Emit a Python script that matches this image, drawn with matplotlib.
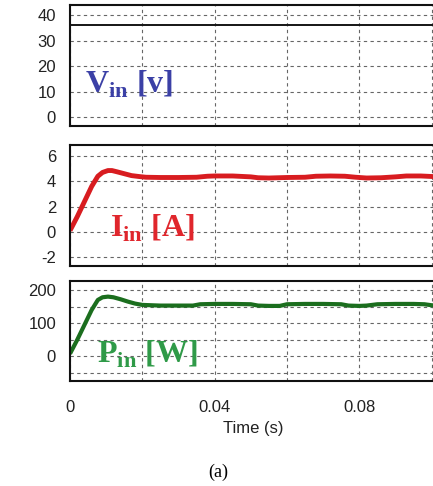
import matplotlib.pyplot as plt

plt.rcParams['font.family'] = ['Liberation Sans', 'DejaVu Sans']
plt.rcParams['axes.unicode_minus'] = False
plt.rcParams['mathtext.fontset'] = 'custom'
plt.rcParams['mathtext.rm'] = 'Liberation Serif:bold'
plt.rcParams['mathtext.bf'] = 'Liberation Serif:bold'

# input voltage (flat)
t_v = [0.0, 0.1012]
v_in = [36, 36]

# input current
t_i = [0.0, 0.002, 0.004, 0.006, 0.0077, 0.009, 0.0105, 0.0116, 0.013, 0.015,
       0.017, 0.019, 0.021, 0.025, 0.03, 0.035, 0.038, 0.04, 0.045, 0.05,
       0.052, 0.055, 0.06, 0.065, 0.068, 0.072, 0.076, 0.079, 0.082, 0.086,
       0.09, 0.093, 0.097, 0.1, 0.1012]
i_in = [0.1, 1.2, 2.4, 3.6, 4.4, 4.7, 4.85, 4.85, 4.75, 4.6,
        4.45, 4.38, 4.32, 4.3, 4.3, 4.32, 4.4, 4.42, 4.42, 4.35,
        4.28, 4.26, 4.3, 4.32, 4.4, 4.42, 4.4, 4.32, 4.26, 4.28,
        4.35, 4.42, 4.42, 4.38, 4.35]

# input power
t_p = [0.0, 0.002, 0.004, 0.006, 0.0077, 0.009, 0.0105, 0.012, 0.014, 0.016,
       0.018, 0.02, 0.025, 0.03, 0.034, 0.036, 0.04, 0.045, 0.05, 0.052,
       0.055, 0.058, 0.06, 0.065, 0.07, 0.075, 0.077, 0.08, 0.082, 0.085,
       0.09, 0.095, 0.098, 0.1, 0.1012]
p_in = [8, 50, 95, 140, 170, 178, 180, 178, 172, 165,
        159, 155, 153, 153, 153, 157, 158, 158, 157, 153,
        152, 152, 157, 158, 158, 157, 153, 152, 153, 157,
        158, 158, 157, 154, 153]

x_ticks = [0, 0.02, 0.04, 0.06, 0.08, 0.1]
x_labels = ['0', '', '0.04', '', '0.08', '']

W, H = 433, 486
fig = plt.figure(figsize=(W / 100, H / 100), dpi=100)

def make_ax(top, bottom):
    ax = fig.add_axes([70 / W, (H - bottom) / H, 366 / W, (bottom - top) / H])
    ax.set_xlim(0, 0.1012)
    ax.set_xticks(x_ticks)
    ax.tick_params(length=0, labelsize=12, labelcolor='#222222', pad=10)
    ax.grid(True, color='#666666', linestyle=(0, (3, 3)), lw=0.8)
    for s in ax.spines.values():
        s.set_linewidth(1.5)
        s.set_color('#111111')
    return ax

def label(ax, x, y, s, color):
    # x, y in image pixels (top-left origin), y is the baseline
    ax.text(x / W, 1 - y / H, s, transform=fig.transFigure, fontsize=23,
            color=color, family='Liberation Serif', weight='bold', va='baseline')

ax1 = make_ax(5, 126)
ax1.plot(t_v, v_in, color='#151515', lw=1.4)
ax1.set_ylim(-3.5, 44)
ax1.set_yticks([0, 10, 20, 30, 40])
ax1.set_xticklabels([])
label(ax1, 85, 93, r'V$_{\mathbf{in}}$ [v]', '#3b40a6')

ax2 = make_ax(145, 266)
ax2.plot(t_i, i_in, color='#d81c20', lw=3.5, solid_capstyle='butt')
ax2.set_ylim(-2.7, 6.87)
ax2.set_yticks([-2, 0, 2, 4, 6])
ax2.set_xticklabels([])
label(ax2, 110, 237, r'I$_{\mathbf{in}}$ [A]', '#e0262c')

ax3 = make_ax(281, 381)
ax3.plot(t_p, p_in, color='#1b6e1e', lw=3, solid_capstyle='butt')
ax3.set_ylim(-74, 227)
ax3.set_yticks([-50, 0, 50, 100, 150, 200])
ax3.set_yticklabels(['', '0', '', '100', '', '200'])
ax3.set_xticklabels(x_labels)
ax3.tick_params(axis='x', pad=14)
ax3.set_xlabel('Time (s)', fontsize=12, color='#222222', labelpad=4)
label(ax3, 97, 363, r'P$_{\mathbf{in}}$ [W]', '#2f9a48')

fig.text(218 / W, 1 - 472 / H, '(a)', ha='center', va='center', fontsize=13,
         family='Liberation Serif')

fig.savefig('out.png', dpi=100)
